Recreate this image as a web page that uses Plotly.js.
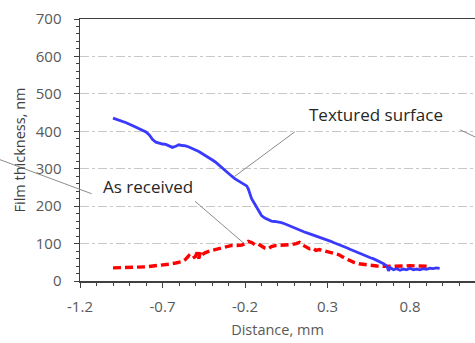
<!DOCTYPE html>
<html>
<head>
<meta charset="utf-8">
<script src="https://cdn.plot.ly/plotly-3.0.1.min.js"></script>
<style>html,body{margin:0;padding:0;background:#fff;}#chart{width:475px;height:343px;}</style>
</head>
<body>
<div id="chart"></div>
<script>
// Textured surface (blue)
var texturedX = [
  -1.00, -0.96, -0.92, -0.88, -0.84, -0.80, -0.78, -0.76, -0.74, -0.72,
  -0.70, -0.68, -0.66, -0.64, -0.62, -0.60, -0.58, -0.56, -0.54, -0.52,
  -0.50, -0.48, -0.46, -0.44, -0.42, -0.40, -0.38, -0.36, -0.34, -0.32,
  -0.30, -0.28, -0.26, -0.24, -0.22, -0.20, -0.19, -0.18, -0.17, -0.16,
  -0.14, -0.12, -0.10, -0.08, -0.06, -0.04, -0.02, 0.00, 0.02, 0.04,
  0.06, 0.08, 0.10, 0.12, 0.14, 0.16, 0.18, 0.20, 0.22, 0.24,
  0.26, 0.28, 0.30, 0.32, 0.34, 0.36, 0.38, 0.40, 0.42, 0.44,
  0.46, 0.48, 0.50, 0.52, 0.54, 0.56, 0.58, 0.60, 0.62, 0.64,
  0.66, 0.67, 0.68, 0.70, 0.72, 0.74, 0.76, 0.78, 0.80, 0.82,
  0.84, 0.86, 0.88, 0.90, 0.92, 0.94, 0.96, 0.98
];
var texturedY = [
  435, 430, 423, 415, 406, 398, 390, 378, 371, 368,
  366, 365, 361, 357, 360, 364, 362, 361, 358, 355,
  350, 346, 341, 336, 330, 324, 318, 310, 302, 295,
  287, 280, 273, 268, 263, 258, 254, 246, 232, 220,
  205, 188, 175, 168, 163, 160, 159, 158, 156, 153,
  149, 145, 142, 139, 135, 131, 128, 125, 122, 119,
  117, 114, 110, 106, 102, 99, 95, 92, 88, 84,
  80, 77, 73, 70, 66, 62, 59, 55, 51, 46,
  40, 27, 36, 30, 33, 29, 32, 30, 34, 30,
  32, 30, 33, 31, 34, 33, 35, 34
];
// As received (red)
var receivedX = [
  -1.00, -0.95, -0.90, -0.85, -0.80, -0.75, -0.70, -0.66, -0.62, -0.58,
  -0.56, -0.54, -0.52, -0.50, -0.49, -0.48, -0.47, -0.46, -0.44, -0.42,
  -0.40, -0.37, -0.34, -0.31, -0.28, -0.25, -0.22, -0.20, -0.18, -0.16,
  -0.14, -0.12, -0.10, -0.08, -0.06, -0.04, -0.01, 0.02, 0.05, 0.08,
  0.11, 0.13, 0.15, 0.17, 0.19, 0.21, 0.23, 0.25, 0.28, 0.31,
  0.34, 0.37, 0.40, 0.43, 0.46, 0.49, 0.52, 0.56, 0.60, 0.64,
  0.68, 0.72, 0.76, 0.80, 0.84, 0.88, 0.92
];
var receivedY = [
  35, 35, 36, 37, 38, 40, 42, 45, 48, 52,
  58, 68, 60, 66, 76, 60, 78, 70, 76, 80,
  82, 85, 89, 93, 95, 95, 96, 100, 106, 103,
  97, 99, 93, 88, 86, 92, 95, 96, 95, 97,
  100, 103, 96, 90, 86, 88, 82, 84, 80, 76,
  73, 70, 62, 55, 50, 46, 44, 42, 40, 39,
  39, 38, 40, 41, 40, 38, 39
];
var xTickVals = [-1.2, -0.7, -0.2, 0.3, 0.8];
var xTickText = ["-1.2", "-0.7", "-0.2", "0.3", "0.8"];
var yTickVals = [0, 100, 200, 300, 400, 500, 600, 700];

var FONT = "Open Sans, sans-serif";
var traces = [
  {x: receivedX, y: receivedY, type: "scatter", mode: "lines", name: "As received",
   line: {color: "#ff0000", width: 3.4, dash: "8px,4px"}},
  {x: texturedX, y: texturedY, type: "scatter", mode: "lines", name: "Textured surface",
   line: {color: "#3a3aff", width: 2.8}}
];
var leader = {color: "#8c8c8c", width: 1};
var layout = {
  width: 475, height: 343,
  margin: {l: 80, r: 0, t: 19, b: 62},
  paper_bgcolor: "#fff", plot_bgcolor: "#fff",
  showlegend: false,
  font: {family: FONT, color: "#595959", size: 15},
  xaxis: {
    range: [-1.2, 1.194], tickvals: xTickVals, ticktext: xTickText,
    showgrid: false, zeroline: false,
    showline: true, linecolor: "#404040", linewidth: 1.5, mirror: true,
    ticks: "outside", ticklen: 5, tickcolor: "#404040",
    minor: {tick0: -1.2, dtick: 0.1, ticks: "outside", ticklen: 3, tickcolor: "#404040"},
    tickfont: {size: 15, color: "#595959"},
    ticklabelstandoff: 6,
    title: {text: "Distance, mm", font: {size: 14.5, color: "#595959"}, standoff: 10}
  },
  yaxis: {
    range: [0, 700], tickvals: yTickVals,
    showgrid: true, gridcolor: "#c8c8c8", griddash: "dashdot", gridwidth: 1,
    zeroline: false,
    showline: true, linecolor: "#404040", linewidth: 1.5,
    ticks: "outside", ticklen: 5, tickcolor: "#404040",
    minor: {tick0: 0, dtick: 20, ticks: "outside", ticklen: 3, tickcolor: "#404040", showgrid: false},
    tickfont: {size: 15, color: "#595959"},
    ticklabelstandoff: 9,
    title: {text: "Film thickness, nm", font: {size: 14.5, color: "#404040"}, standoff: 6}
  },
  annotations: [
    {x: 0.594, y: 445, xref: "x", yref: "y", text: "Textured surface", showarrow: false,
     font: {size: 17, color: "#262626", family: FONT}},
    {x: -0.785, y: 253, xref: "x", yref: "y", text: "As received", showarrow: false,
     font: {size: 17, color: "#262626", family: FONT}}
  ],
  shapes: [
    {type: "line", xref: "x", yref: "y", x0: 0.103, y0: 399, x1: -0.261, y1: 280, line: leader},
    {type: "line", xref: "paper", yref: "paper", x0: 0.962, y0: 0.577, x1: 1.0, y1: 0.55, line: leader},
    {type: "line", xref: "x", yref: "y", x0: -0.503, y0: 213, x1: -0.21, y1: 102, line: leader},
    {type: "line", xref: "paper", yref: "paper", x0: -0.2025, y0: 0.463, x1: 0.0296, y1: 0.333, line: leader}
  ]
};
Plotly.newPlot("chart", traces, layout, {displayModeBar: false, staticPlot: true});
</script>
</body>
</html>
